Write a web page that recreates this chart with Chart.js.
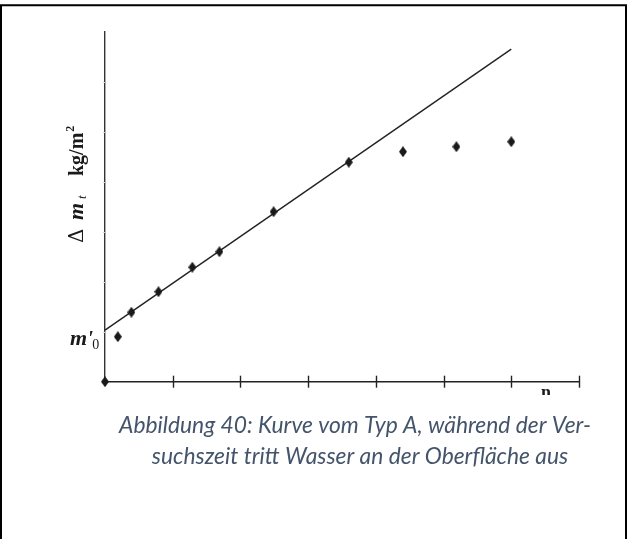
<!DOCTYPE html>
<html>
<head>
<meta charset="utf-8">
<script src="https://cdn.jsdelivr.net/npm/chart.js@4/dist/chart.umd.min.js"></script>
<style>
  html, body { margin: 0; padding: 0; background: #fff; }
  #wrap { width: 627px; height: 539px; }
</style>
</head>
<body>
<div id="wrap"><canvas id="chart" width="627" height="539"></canvas></div>
<script>
// Measured mass gain over test time (axis units, one unit per tick)
const timeSteps = [0, 0.19, 0.39, 0.79, 1.29, 1.69, 2.49, 3.60, 4.40, 5.19, 6.00];
const massGain  = [0, 0.90, 1.39, 1.80, 2.29, 2.60, 3.40, 4.39, 4.60, 4.70, 4.80];

// Straight line through the linear part, starting at m'0
const fitTime = [0, 6.0];
const fitMass = [1.03, 6.65];

// Tick positions on both axes
const xTickValues = [1, 2, 3, 4, 5, 6, 7];
const yTickValues = [1, 2, 3, 4, 5, 6];

const captionLines = [
  'Abbildung 40: Kurve vom Typ A, während der Ver-',
  'suchszeit tritt Wasser an der Oberfläche aus'
];

const INK = '#222222';

// Tall narrow diamond marker
function makeDiamond(w, h, color) {
  const c = document.createElement('canvas');
  c.width = w; c.height = h;
  const g = c.getContext('2d');
  g.fillStyle = color;
  g.beginPath();
  g.moveTo(w / 2, 0);
  g.lineTo(w, h / 2);
  g.lineTo(w / 2, h);
  g.lineTo(0, h / 2);
  g.closePath();
  g.fill();
  return c;
}
const diamond = makeDiamond(8, 11, '#1a1a1a');

const points = timeSteps.map((t, i) => ({ x: t, y: massGain[i] }));
const fitPoints = fitTime.map((t, i) => ({ x: t, y: fitMass[i] }));

const decorations = {
  id: 'decorations',
  afterDraw(chart) {
    const ctx = chart.ctx;
    const xs = chart.scales.x, ys = chart.scales.y;
    const y0 = ys.getPixelForValue(0);
    const x0 = xs.getPixelForValue(0);

    ctx.save();
    // x-axis ticks crossing the axis
    ctx.strokeStyle = INK;
    ctx.lineWidth = 1.4;
    xTickValues.forEach(v => {
      const px = Math.round(xs.getPixelForValue(v)) + 0.5;
      ctx.beginPath();
      ctx.moveTo(px, y0 - 6);
      ctx.lineTo(px, y0 + 6);
      ctx.stroke();
    });
    // faint short ticks on the y-axis
    ctx.strokeStyle = '#d4d4d4';
    ctx.lineWidth = 1;
    yTickValues.forEach(v => {
      const py = Math.round(ys.getPixelForValue(v)) + 0.5;
      ctx.beginPath();
      ctx.moveTo(x0 - 2, py);
      ctx.lineTo(x0, py);
      ctx.stroke();
    });

    // m'0 label at the line's intercept
    ctx.fillStyle = '#1a1a1a';
    ctx.textBaseline = 'alphabetic';
    ctx.textAlign = 'left';
    ctx.font = 'bold italic 22px "Liberation Serif"';
    ctx.fillText("m'", 70, 345);
    const mw = ctx.measureText("m'").width;
    ctx.font = '14px "Liberation Serif"';
    ctx.fillText('0', 69 + mw, 349);

    // rotated axis title: Δ m_t  kg/m²
    ctx.save();
    ctx.translate(83, 243);
    ctx.rotate(-Math.PI / 2);
    ctx.font = '20px "DejaVu Serif"';
    ctx.fillText('Δ', 0, 0);
    ctx.font = 'bold italic 22px "Liberation Serif"';
    ctx.fillText('m', 23, 0);
    ctx.font = 'italic 13px "Liberation Serif"';
    ctx.fillText('t', 44, 3);
    ctx.font = 'bold 20px "Liberation Serif"';
    ctx.fillText('kg/m', 67, 0);
    const kw = ctx.measureText('kg/m').width;
    ctx.font = 'bold 12px "Liberation Serif"';
    ctx.fillText('2', 67 + kw + 1, -9);
    ctx.restore();

    // top of the x-axis unit label, cut off at the figure edge
    ctx.save();
    ctx.beginPath();
    ctx.rect(530, 387, 40, 8);
    ctx.clip();
    ctx.font = 'bold 18px "Liberation Serif"';
    ctx.fillStyle = '#1a1a1a';
    ctx.fillText('n', 541, 398);
    ctx.restore();

    // caption
    ctx.fillStyle = '#44546A';
    ctx.textAlign = 'center';
    ctx.font = 'italic 20px Lato';
    const w1 = ctx.measureText(captionLines[0]).width;
    const size = 20 * 472 / w1;
    ctx.font = 'italic ' + size.toFixed(2) + 'px Lato';
    ctx.fillText(captionLines[0], 355, 433);
    ctx.fillText(captionLines[1], 360, 464);

    // frame around the figure
    ctx.strokeStyle = '#000';
    ctx.lineWidth = 2;
    ctx.beginPath();
    ctx.moveTo(1, 539);
    ctx.lineTo(1, 5.3);
    ctx.lineTo(626, 5.3);
    ctx.lineTo(626, 539);
    ctx.stroke();
    ctx.restore();
  }
};

new Chart(document.getElementById('chart'), {
  type: 'scatter',
  data: {
    datasets: [
      {
        type: 'line',
        data: fitPoints,
        borderColor: INK,
        borderWidth: 1.4,
        pointRadius: 0,
        fill: false,
        tension: 0,
        clip: false,
        order: 2
      },
      {
        data: points,
        pointStyle: diamond,
        pointRadius: 5,
        backgroundColor: '#1a1a1a',
        borderColor: '#1a1a1a',
        clip: false,
        order: 1
      }
    ]
  },
  options: {
    responsive: false,
    animation: false,
    devicePixelRatio: 1,
    layout: { padding: { left: 105, right: 48, top: 31.7, bottom: 157.3 } },
    plugins: { legend: { display: false }, tooltip: { enabled: false } },
    scales: {
      x: {
        type: 'linear', min: 0, max: 7,
        grid: { display: false, drawTicks: false },
        border: { display: true, color: INK, width: 1.4 },
        ticks: { display: false }
      },
      y: {
        type: 'linear', min: 0, max: 7,
        grid: { display: false, drawTicks: false },
        border: { display: true, color: '#333', width: 1.4 },
        ticks: { display: false }
      }
    }
  },
  plugins: [decorations]
});
</script>
</body>
</html>
